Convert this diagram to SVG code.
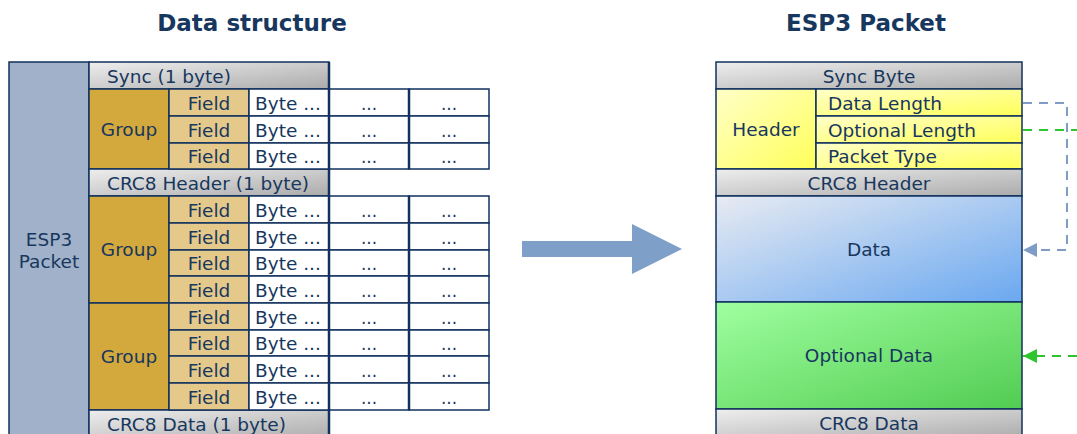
<svg xmlns="http://www.w3.org/2000/svg" width="1077" height="434" viewBox="0 0 1077 434">
<defs>
<style>
text{font-family:"DejaVu Sans","Verdana",sans-serif;font-size:18.5px;fill:#17375E}
.title{font-weight:bold;font-size:23px;fill:#17375E}
.c{text-anchor:middle}
.b{stroke:#10305E;stroke-width:1.5}
.gray{fill:url(#gGray)}
.grp{fill:#D3A83C}
.fld{fill:#E5C98A}
.wh{fill:#FFFFFF}
.dots{font-size:17px}
</style>
<linearGradient id="gGray" x1="0" y1="0" x2="1" y2="1">
<stop offset="0" stop-color="#EEEEEE"/><stop offset="1" stop-color="#ABABAB"/>
</linearGradient>
<linearGradient id="gYel" x1="0" y1="0" x2="1" y2="1">
<stop offset="0" stop-color="#FFFFC8"/><stop offset="1" stop-color="#FFFF5A"/>
</linearGradient>
<linearGradient id="gBlue" x1="0" y1="0" x2="1" y2="1">
<stop offset="0" stop-color="#E8EBF2"/><stop offset="1" stop-color="#6AA8F0"/>
</linearGradient>
<linearGradient id="gGreen" x1="0" y1="0" x2="1" y2="1">
<stop offset="0" stop-color="#9FFF9F"/><stop offset="1" stop-color="#52CC52"/>
</linearGradient>
<clipPath id="byteClip"><rect x="249" y="0" width="80" height="434"/></clipPath>
<marker id="arrBlue" markerWidth="14" markerHeight="14" refX="14" refY="7" orient="auto" markerUnits="userSpaceOnUse">
<path d="M0,0 L14,7 L0,14 Z" fill="#7E9CC6"/>
</marker>
<marker id="arrGreen" markerWidth="14" markerHeight="14" refX="14" refY="7" orient="auto" markerUnits="userSpaceOnUse">
<path d="M0,0 L14,7 L0,14 Z" fill="#2EC42E"/>
</marker>
</defs>
<rect width="1077" height="434" fill="#FFFFFF"/>

<text class="title c" x="252" y="31">Data structure</text>
<text class="title c" x="866" y="31">ESP3 Packet</text>

<!-- Left: data structure -->
<g id="esp3-packet">
<rect x="9" y="62" width="80" height="380" fill="#A1B1C9" class="b"/>
<text class="c" x="49" y="246">ESP3</text>
<text class="c" x="49" y="268">Packet</text>
</g>

<g id="sync-row">
<rect x="89" y="62" width="240" height="27" class="gray b"/>
<text x="107" y="83">Sync (1 byte)</text>
</g>

<g id="group1">
<rect x="89" y="89" width="80" height="80" class="grp b"/>
<text class="c" x="129" y="136">Group</text>
</g>
<g id="crc8-header-row">
<rect x="89" y="169" width="240" height="27" class="gray b"/>
<text x="107" y="190">CRC8 Header (1 byte)</text>
</g>
<g id="group2">
<rect x="89" y="196" width="80" height="107" class="grp b"/>
<text class="c" x="129" y="256">Group</text>
</g>
<g id="group3">
<rect x="89" y="303" width="80" height="107" class="grp b"/>
<text class="c" x="129" y="363">Group</text>
</g>
<g id="crc8-data-row">
<rect x="89" y="410" width="240" height="30" class="gray b"/>
<text x="107" y="431">CRC8 Data (1 byte)</text>
</g>

<g id="field-rows">
<g id="r1"><rect x="169" y="89" width="80" height="27" class="fld b"/><rect x="249" y="89" width="80" height="27" class="wh b"/><rect x="329" y="89" width="80" height="27" class="wh b"/><rect x="409" y="89" width="80" height="27" class="wh b"/>
<text class="c" x="209" y="110">Field</text><text x="255" y="110" clip-path="url(#byteClip)">Byte ...</text><text class="c dots" x="369" y="110">...</text><text class="c dots" x="449" y="110">...</text></g>
<g id="r2"><rect x="169" y="116" width="80" height="27" class="fld b"/><rect x="249" y="116" width="80" height="27" class="wh b"/><rect x="329" y="116" width="80" height="27" class="wh b"/><rect x="409" y="116" width="80" height="27" class="wh b"/>
<text class="c" x="209" y="137">Field</text><text x="255" y="137" clip-path="url(#byteClip)">Byte ...</text><text class="c dots" x="369" y="137">...</text><text class="c dots" x="449" y="137">...</text></g>
<g id="r3"><rect x="169" y="143" width="80" height="26" class="fld b"/><rect x="249" y="143" width="80" height="26" class="wh b"/><rect x="329" y="143" width="80" height="26" class="wh b"/><rect x="409" y="143" width="80" height="26" class="wh b"/>
<text class="c" x="209" y="163">Field</text><text x="255" y="163" clip-path="url(#byteClip)">Byte ...</text><text class="c dots" x="369" y="163">...</text><text class="c dots" x="449" y="163">...</text></g>

<g id="r4"><rect x="169" y="196" width="80" height="27" class="fld b"/><rect x="249" y="196" width="80" height="27" class="wh b"/><rect x="329" y="196" width="80" height="27" class="wh b"/><rect x="409" y="196" width="80" height="27" class="wh b"/>
<text class="c" x="209" y="217">Field</text><text x="255" y="217" clip-path="url(#byteClip)">Byte ...</text><text class="c dots" x="369" y="217">...</text><text class="c dots" x="449" y="217">...</text></g>
<g id="r5"><rect x="169" y="223" width="80" height="27" class="fld b"/><rect x="249" y="223" width="80" height="27" class="wh b"/><rect x="329" y="223" width="80" height="27" class="wh b"/><rect x="409" y="223" width="80" height="27" class="wh b"/>
<text class="c" x="209" y="244">Field</text><text x="255" y="244" clip-path="url(#byteClip)">Byte ...</text><text class="c dots" x="369" y="244">...</text><text class="c dots" x="449" y="244">...</text></g>
<g id="r6"><rect x="169" y="250" width="80" height="26" class="fld b"/><rect x="249" y="250" width="80" height="26" class="wh b"/><rect x="329" y="250" width="80" height="26" class="wh b"/><rect x="409" y="250" width="80" height="26" class="wh b"/>
<text class="c" x="209" y="270">Field</text><text x="255" y="270" clip-path="url(#byteClip)">Byte ...</text><text class="c dots" x="369" y="270">...</text><text class="c dots" x="449" y="270">...</text></g>
<g id="r7"><rect x="169" y="276" width="80" height="27" class="fld b"/><rect x="249" y="276" width="80" height="27" class="wh b"/><rect x="329" y="276" width="80" height="27" class="wh b"/><rect x="409" y="276" width="80" height="27" class="wh b"/>
<text class="c" x="209" y="297">Field</text><text x="255" y="297" clip-path="url(#byteClip)">Byte ...</text><text class="c dots" x="369" y="297">...</text><text class="c dots" x="449" y="297">...</text></g>

<g id="r8"><rect x="169" y="303" width="80" height="27" class="fld b"/><rect x="249" y="303" width="80" height="27" class="wh b"/><rect x="329" y="303" width="80" height="27" class="wh b"/><rect x="409" y="303" width="80" height="27" class="wh b"/>
<text class="c" x="209" y="324">Field</text><text x="255" y="324" clip-path="url(#byteClip)">Byte ...</text><text class="c dots" x="369" y="324">...</text><text class="c dots" x="449" y="324">...</text></g>
<g id="r9"><rect x="169" y="330" width="80" height="26" class="fld b"/><rect x="249" y="330" width="80" height="26" class="wh b"/><rect x="329" y="330" width="80" height="26" class="wh b"/><rect x="409" y="330" width="80" height="26" class="wh b"/>
<text class="c" x="209" y="350">Field</text><text x="255" y="350" clip-path="url(#byteClip)">Byte ...</text><text class="c dots" x="369" y="350">...</text><text class="c dots" x="449" y="350">...</text></g>
<g id="r10"><rect x="169" y="356" width="80" height="27" class="fld b"/><rect x="249" y="356" width="80" height="27" class="wh b"/><rect x="329" y="356" width="80" height="27" class="wh b"/><rect x="409" y="356" width="80" height="27" class="wh b"/>
<text class="c" x="209" y="377">Field</text><text x="255" y="377" clip-path="url(#byteClip)">Byte ...</text><text class="c dots" x="369" y="377">...</text><text class="c dots" x="449" y="377">...</text></g>
<g id="r11"><rect x="169" y="383" width="80" height="27" class="fld b"/><rect x="249" y="383" width="80" height="27" class="wh b"/><rect x="329" y="383" width="80" height="27" class="wh b"/><rect x="409" y="383" width="80" height="27" class="wh b"/>
<text class="c" x="209" y="404">Field</text><text x="255" y="404" clip-path="url(#byteClip)">Byte ...</text><text class="c dots" x="369" y="404">...</text><text class="c dots" x="449" y="404">...</text></g>
</g>
<line x1="329" y1="62" x2="329" y2="434" stroke="#10305E" stroke-width="2.5"/>
<line x1="409" y1="89" x2="409" y2="169" stroke="#10305E" stroke-width="2.5"/>
<line x1="409" y1="196" x2="409" y2="410" stroke="#10305E" stroke-width="2.5"/>

<!-- Big arrow -->
<g id="big-arrow">
<path d="M522,241 H632 V224 L682,249 L632,274 V257 H522 Z" fill="#7E9FC8"/>
</g>

<!-- Right: ESP3 packet -->
<g id="sync-byte">
<rect x="716" y="62" width="306" height="27" class="gray b"/>
<text class="c" x="869" y="83">Sync Byte</text>
</g>
<g id="header">
<rect x="716" y="89" width="100" height="80" fill="url(#gYel)" class="b"/>
<text class="c" x="766" y="136">Header</text>
</g>
<g id="data-length">
<rect x="816" y="89" width="206" height="27" fill="url(#gYel)" class="b"/>
<text x="828" y="110">Data Length</text>
</g>
<g id="optional-length">
<rect x="816" y="116" width="206" height="27" fill="url(#gYel)" class="b"/>
<text x="828" y="137">Optional Length</text>
</g>
<g id="packet-type">
<rect x="816" y="143" width="206" height="26" fill="url(#gYel)" class="b"/>
<text x="828" y="163">Packet Type</text>
</g>
<g id="crc8-header">
<rect x="716" y="169" width="306" height="27" class="gray b"/>
<text class="c" x="869" y="190">CRC8 Header</text>
</g>
<g id="data">
<rect x="716" y="196" width="306" height="106" fill="url(#gBlue)" class="b"/>
<text class="c" x="869" y="256">Data</text>
</g>
<g id="optional-data">
<rect x="716" y="302" width="306" height="107" fill="url(#gGreen)" class="b"/>
<text class="c" x="869" y="362">Optional Data</text>
</g>
<g id="crc8-data">
<rect x="716" y="409" width="306" height="30" class="gray b"/>
<text class="c" x="869" y="430">CRC8 Data</text>
</g>

<g id="connectors" fill="none" stroke-width="2" stroke-dasharray="9,7">
<path d="M1023,103 H1067 V250 H1023" stroke="#7E9CC6" marker-end="url(#arrBlue)"/>
<path d="M1023,130 H1077" stroke="#2EC42E"/>
<path d="M1077,356 H1023" stroke="#2EC42E" marker-end="url(#arrGreen)"/>
</g>
</svg>
